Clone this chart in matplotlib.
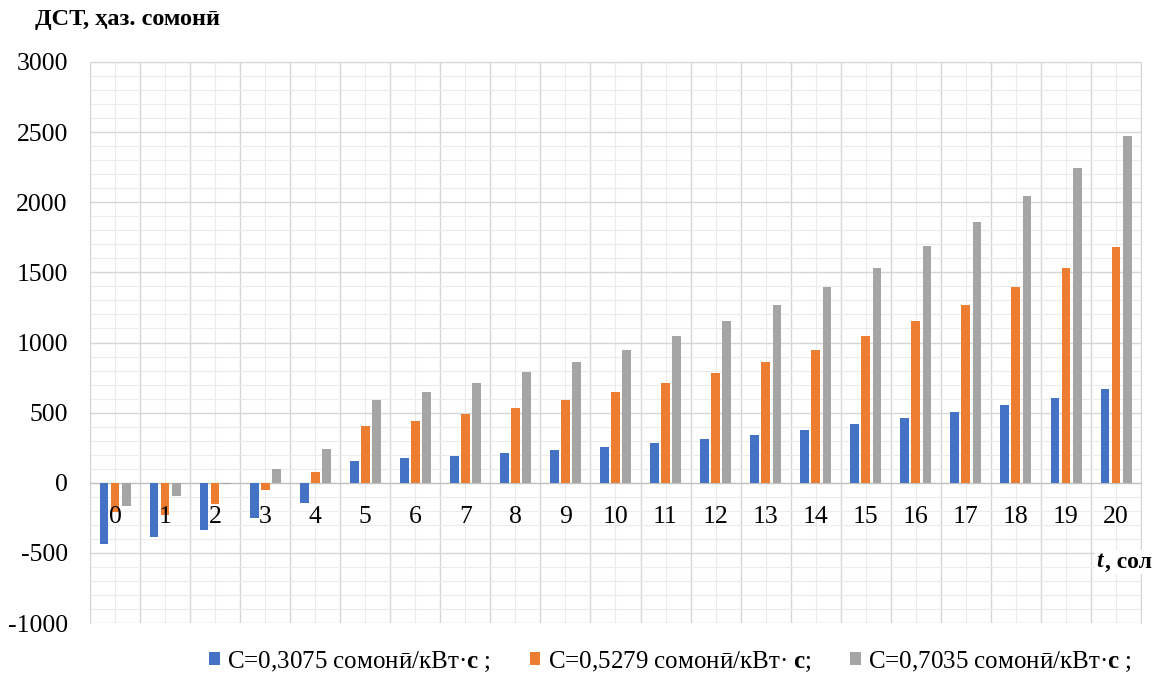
import matplotlib.pyplot as plt
import numpy as np
from matplotlib.patches import Patch
from matplotlib.ticker import MultipleLocator

plt.rcParams['font.family'] = ['Liberation Serif', 'DejaVu Serif']
plt.rcParams['mathtext.fontset'] = 'custom'
plt.rcParams['mathtext.rm'] = 'Liberation Serif'
plt.rcParams['mathtext.bf'] = 'Liberation Serif:bold'
plt.rcParams['mathtext.it'] = 'Liberation Serif:italic'
plt.rcParams['axes.unicode_minus'] = False

# --- Маълумот ---
solho = np.arange(0, 21)
dst_c1 = [-435, -390, -340, -252, -145, 157, 176, 193, 209, 236, 257,
          287, 314, 343, 379, 419, 460, 505, 555, 607, 671]
dst_c2 = [-205, -228, -150, -55, 74, 402, 443, 488, 536, 593, 650,
          712, 783, 862, 950, 1048, 1152, 1269, 1395, 1533, 1683]
dst_c3 = [-165, -98, -10, 100, 240, 593, 650, 712, 788, 862, 950,
          1048, 1152, 1269, 1395, 1533, 1688, 1860, 2043, 2245, 2469]

nomho = ['C=0,3075 сомонӣ/кВт·$\\mathbf{с}$ ;',
         'C=0,5279 сомонӣ/кВт· $\\mathbf{с}$;',
         'C=0,7035 сомонӣ/кВт·$\\mathbf{с}$ ;']
rangho = ['#4472C4', '#ED7D31', '#A5A5A5']

fig = plt.figure(figsize=(11.58, 6.82), dpi=100)
ax = fig.add_axes([0.0777, 0.0865, 0.9076, 0.8226])

paha = 0.175
jobajo = [-0.22, 0.0, 0.225]
for qator, rang, dx in zip([dst_c1, dst_c2, dst_c3], rangho, jobajo):
    ax.bar(solho + dx, qator, width=paha, color=rang, zorder=3)

ax.set_xlim(-0.5, 20.5)
ax.set_ylim(-1000, 3000)

# тӯр: хатҳои асосӣ ва ёрирасон
ax.yaxis.set_major_locator(MultipleLocator(500))
ax.yaxis.set_minor_locator(MultipleLocator(100))
ax.set_xticks(solho)
ax.set_xticks(np.arange(-0.5, 21, 1), minor=True)
ax.grid(which='major', axis='y', color='#d6d6d6', lw=1.0, zorder=0)
ax.grid(which='minor', axis='y', color='#ebebeb', lw=0.8, zorder=0)
ax.grid(which='minor', axis='x', color='#d6d6d6', lw=1.0, zorder=0)
ax.grid(which='major', axis='x', color='#ebebeb', lw=0.8, zorder=0)
ax.set_axisbelow(True)

ax.spines['bottom'].set_position(('data', 0))
ax.spines['bottom'].set_color('#bfbfbf')
for s in ['left', 'top', 'right']:
    ax.spines[s].set_color('#d6d6d6')

ax.tick_params(axis='x', which='both', length=0, labelbottom=False)
ax.tick_params(axis='y', which='both', length=0, pad=16, labelsize=18.5)

# рақамҳои солҳо дар зери хати сифр
for s in solho:
    ax.annotate(str(s), xy=(s, 0), xytext=(0, -24.5), textcoords='offset points',
                ha='center', va='center', fontsize=18.5, zorder=5)

fig.text(0.030, 0.972, 'ДСТ, ҳаз. сомонӣ', fontsize=17.5, fontweight='bold',
         va='center', ha='left')

fig.text(0.947, 0.176, 't', fontsize=17, fontweight='bold', style='italic',
         va='center', ha='left',
         bbox=dict(facecolor='white', edgecolor='none', pad=1))
fig.text(0.9545, 0.176, ', сол', fontsize=17, fontweight='bold',
         va='center', ha='left',
         bbox=dict(facecolor='white', edgecolor='none', pad=1))

dastakho = [Patch(facecolor=r) for r in rangho]
fig.legend(dastakho, nomho, loc='center', bbox_to_anchor=(0.579, 0.03),
           ncol=3, frameon=False, fontsize=18, handlelength=0.42,
           handleheight=0.42, handletextpad=0.3, columnspacing=1.55)

fig.savefig('out.png', dpi=100)
